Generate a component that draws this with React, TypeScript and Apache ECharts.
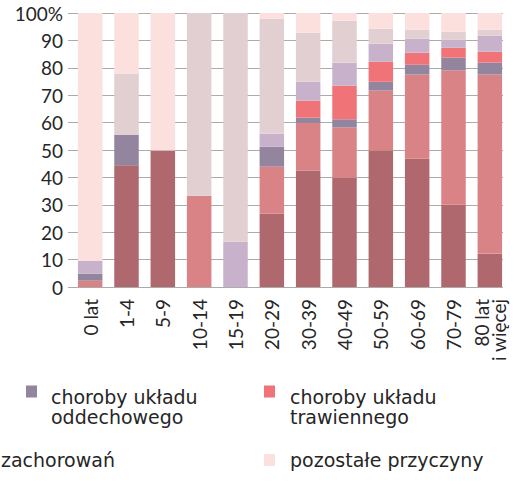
import React, { useEffect, useRef } from "react";
import * as echarts from "echarts";

const categories = ["0 lat", "1-4", "5-9", "10-14", "15-19", "20-29", "30-39", "40-49", "50-59", "60-69", "70-79", "80 lat\ni więcej"];
const yTicks = [0, 10, 20, 30, 40, 50, 60, 70, 80, 90, 100];

const nowotwory = [0, 44.4, 49.8, 0, 0, 26.8, 42.5, 39.9, 49.8, 46.8, 30.0, 12.2];
const krazenia = [2.3, 0, 0, 33.3, 0, 17.1, 17.4, 18.3, 21.9, 30.7, 49.0, 65.3];
const oddechowego = [2.6, 11.2, 0, 0, 0, 7.3, 1.9, 3.0, 3.2, 3.6, 4.7, 4.4];
const trawiennego = [0, 0, 0, 0, 0, 0, 6.2, 12.3, 7.3, 4.4, 3.6, 4.0];
const objawy = [4.7, 0, 0, 0, 16.5, 4.8, 6.9, 8.4, 6.6, 5.1, 3.0, 5.8];
const zewnetrzne = [0, 22.3, 0, 66.7, 83.5, 41.9, 17.9, 15.3, 5.5, 3.3, 2.9, 2.2];
const pozostale = [90.4, 22.1, 50.2, 0, 0, 2.1, 7.2, 2.8, 5.7, 6.1, 6.8, 6.1];

const seriesNames = [
  "nowotwory",
  "choroby układu krążenia",
  "choroby układu oddechowego",
  "choroby układu trawiennego",
  "objawy i stany niedokładnie określone",
  "zewnętrzne przyczyny zachorowań",
  "pozostałe przyczyny",
];
const seriesData = [nowotwory, krazenia, oddechowego, trawiennego, objawy, zewnetrzne, pozostale];
const colors = ["#B0686F", "#DA8386", "#93859D", "#F07378", "#C8B2CB", "#E1CFD1", "#FCE0DE"];

const FONT = "Lato";
const LFONT = "DejaVu Sans";
const TXT = "#262626";

export default function App() {
  const ref = useRef<HTMLDivElement>(null);
  useEffect(() => {
    if (!ref.current) return;
    const chart = echarts.init(ref.current, undefined, { renderer: "svg" });
    const twoLine = (name: string) => {
      const parts = name.split("układu ");
      return "{s|}\n{t|" + parts[0] + "układu}\n{t|" + parts[1] + "}";
    };
    const legendBase = {
      orient: "horizontal",
      padding: 0,
      itemWidth: 11,
      itemHeight: 12,
      icon: "rect",
      selectedMode: false,
    };
    const richStyle = {
      s: { lineHeight: 31, fontSize: 19, fontFamily: LFONT },
      t: { lineHeight: 20, fontSize: 19, fontFamily: LFONT, color: TXT },
    };
    chart.setOption({
      animation: false,
      color: colors,
      textStyle: { fontFamily: FONT },
      grid: [
        { left: 68, right: 11, top: 13, bottom: 203 },
        { left: 72, right: 6, top: 13, bottom: 203 },
      ],
      xAxis: [
        { type: "value", gridIndex: 0, min: 0, max: 1, show: false },
        {
          type: "category",
          gridIndex: 1,
          data: categories,
          axisLine: { show: false },
          axisTick: { show: false },
          axisLabel: {
            rotate: 90,
            margin: 12,
            fontSize: 19,
            lineHeight: 17,
            color: TXT,
            fontFamily: FONT,
            interval: 0,
          },
        },
      ],
      yAxis: [
        {
          type: "value",
          gridIndex: 0,
          min: 0,
          max: 100,
          interval: 10,
          axisLine: { show: false },
          axisTick: { show: false },
          splitLine: { lineStyle: { color: "#ABABAB", width: 1 } },
          axisLabel: {
            margin: 5,
            fontSize: 19,
            color: TXT,
            fontFamily: FONT,
            formatter: (v: number) => (v === 100 ? "100%" : String(v)),
          },
        },
        { type: "value", gridIndex: 1, min: 0, max: 100, show: false },
      ],
      legend: [
        {
          ...legendBase,
          data: [seriesNames[2]],
          left: 26,
          top: 362,
          formatter: twoLine,
          textStyle: { fontSize: 19, color: TXT, fontFamily: LFONT, padding: [0, 0, 0, 9], rich: richStyle },
        },
        {
          ...legendBase,
          data: [seriesNames[3]],
          left: 264,
          top: 362,
          formatter: twoLine,
          textStyle: { fontSize: 19, color: TXT, fontFamily: LFONT, padding: [0, 0, 0, 10], rich: richStyle },
        },
        {
          ...legendBase,
          data: [seriesNames[5]],
          left: -25,
          top: 450,
          formatter: () => "zachorowań",
          textStyle: { fontSize: 19, lineHeight: 20, color: TXT, fontFamily: LFONT, padding: [0, 0, 0, 10] },
        },
        {
          ...legendBase,
          data: [seriesNames[6]],
          left: 264,
          top: 450,
          textStyle: { fontSize: 19, lineHeight: 20, color: TXT, fontFamily: LFONT, padding: [0, 0, 0, 10] },
        },
      ],
      series: seriesNames.map((name, i) => ({
        name,
        type: "bar",
        stack: "total",
        xAxisIndex: 1,
        yAxisIndex: 1,
        barWidth: 24.5,
        data: seriesData[i],
        itemStyle: { color: colors[i] },
      })),
    });
    return () => chart.dispose();
  }, []);
  return <div ref={ref} style={{ width: 514, height: 490, position: "absolute", left: 0, top: 0 }} />;
}
